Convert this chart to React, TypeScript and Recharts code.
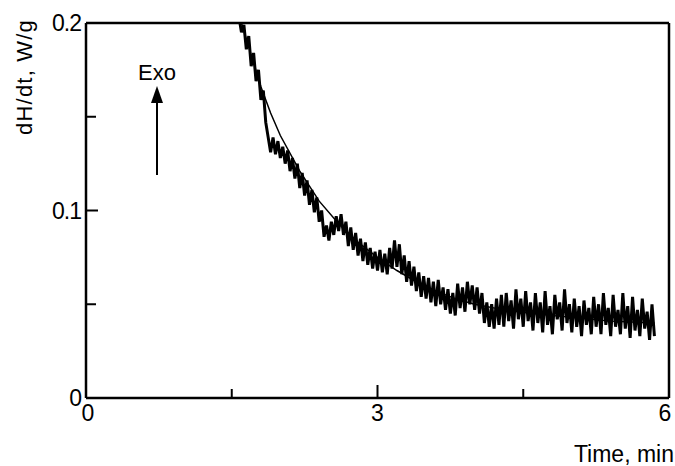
import { LineChart, Line, XAxis, YAxis, ReferenceLine } from 'recharts';

// sampled heat flow signal, one reading every 0.025 min starting at 1.55 min
const SAMPLE_START = 1.55;
const SAMPLE_STEP = 0.025;
const heatFlow = [
  0.206, 0.203, 0.195, 0.199, 0.186, 0.193, 0.177, 0.184, 0.169, 0.175,
  0.159, 0.164, 0.147, 0.139, 0.131, 0.139, 0.13, 0.137, 0.128, 0.134,
  0.125, 0.132, 0.121, 0.128, 0.117, 0.125, 0.112, 0.12, 0.108, 0.116,
  0.103, 0.111, 0.099, 0.107, 0.094, 0.1, 0.086, 0.092, 0.084, 0.094,
  0.087, 0.097, 0.089, 0.098, 0.087, 0.094, 0.081, 0.091, 0.079, 0.088,
  0.076, 0.085, 0.073, 0.083, 0.071, 0.08, 0.069, 0.078, 0.068, 0.079,
  0.067, 0.077, 0.066, 0.08, 0.069, 0.084, 0.07, 0.082, 0.066, 0.076,
  0.062, 0.073, 0.06, 0.07, 0.057, 0.067, 0.054, 0.065, 0.053, 0.064,
  0.051, 0.062, 0.049, 0.063, 0.05, 0.059, 0.047, 0.058, 0.045, 0.056,
  0.044, 0.061, 0.048, 0.059, 0.046, 0.062, 0.05, 0.06, 0.047, 0.059,
  0.045, 0.056, 0.04, 0.051, 0.038, 0.05, 0.037, 0.053, 0.039, 0.055,
  0.038, 0.056, 0.041, 0.052, 0.037, 0.058, 0.042, 0.053, 0.038, 0.057,
  0.041, 0.051, 0.036, 0.056, 0.04, 0.051, 0.035, 0.057, 0.039, 0.049,
  0.034, 0.055, 0.042, 0.051, 0.036, 0.058, 0.04, 0.05, 0.035, 0.053,
  0.038, 0.049, 0.033, 0.052, 0.039, 0.048, 0.034, 0.054, 0.038, 0.05,
  0.034, 0.056, 0.039, 0.048, 0.033, 0.055, 0.038, 0.047, 0.034, 0.056,
  0.037, 0.049, 0.032, 0.054, 0.036, 0.047, 0.033, 0.053, 0.037, 0.046,
  0.031, 0.05, 0.033,
];

// smooth fitted curve
const fitTimes = [1.55, 1.6, 1.7, 1.8, 1.9, 2.0, 2.2, 2.4, 2.6, 2.8, 3.0, 3.2, 3.4, 3.6, 3.8, 4.0, 4.3, 4.6, 5.0, 5.4, 5.85];
const fitValues = [0.208, 0.2, 0.183, 0.166, 0.152, 0.14, 0.121, 0.105, 0.093, 0.083, 0.075, 0.068, 0.062, 0.057, 0.053, 0.05, 0.047, 0.045, 0.043, 0.041, 0.04];

const xTicks = [0, 1.5, 3, 4.5, 6];
const xLabels = [0, 3, 6];
const yTicks = [0, 0.05, 0.1, 0.15, 0.2];
const yLabels: Record<number, string> = { 0: '0', 0.1: '0.1', 0.2: '0.2' };

const signalData = heatFlow.map((v, i) => ({ t: SAMPLE_START + i * SAMPLE_STEP, v }));
const fitData = fitTimes.map((t, i) => ({ t, v: fitValues[i] }));

const FONT = '"Liberation Sans", Arial, sans-serif';

const XTick = (props: any) => {
  const { x, y, payload } = props;
  const val = payload.value;
  const len = val === 3 ? 13 : 9;
  return (
    <g>
      {val !== 0 && val !== 6 && (
        <line x1={x} y1={y} x2={x} y2={y - len} stroke="#000" strokeWidth={2} />
      )}
      {xLabels.includes(val) && (
        <text
          x={val === 0 ? x + 2 : val === 6 ? x - 4 : x}
          y={y + 23}
          textAnchor="middle"
          fontSize={23}
          fontFamily={FONT}
          fill="#000"
        >
          {val}
        </text>
      )}
    </g>
  );
};

const YTick = (props: any) => {
  const { x, y, payload } = props;
  const val = payload.value;
  const len = val === 0.1 ? 12 : 10;
  const label = yLabels[val];
  return (
    <g>
      {val !== 0 && val !== 0.2 && (
        <line x1={x} y1={y} x2={x + len} y2={y} stroke="#000" strokeWidth={2} />
      )}
      {label && (
        <text
          x={x - 5}
          y={y + 8}
          textAnchor="end"
          fontSize={23}
          fontFamily={FONT}
          letterSpacing={-1}
          fill="#000"
        >
          {label}
        </text>
      )}
    </g>
  );
};

export default function App() {
  return (
    <div style={{ position: 'absolute', left: 0, top: 0, width: 675, height: 466, background: '#fff' }}>
      <LineChart
        width={675}
        height={466}
        margin={{ top: 23, right: 6, bottom: 67, left: 85 }}
      >
        <XAxis
          dataKey="t"
          type="number"
          domain={[0, 6]}
          ticks={xTicks}
          allowDataOverflow
          height={1}
          tickSize={0}
          tickMargin={0}
          tickLine={false}
          tick={<XTick />}
          axisLine={{ stroke: '#000', strokeWidth: 2.5 }}
        />
        <YAxis
          dataKey="v"
          type="number"
          domain={[0, 0.2]}
          ticks={yTicks}
          allowDataOverflow
          width={1}
          tickSize={0}
          tickMargin={0}
          tickLine={false}
          tick={<YTick />}
          axisLine={{ stroke: '#000', strokeWidth: 2.5 }}
        />
        <ReferenceLine y={0.2} stroke="#000" strokeWidth={2.5} />
        <ReferenceLine x={6} stroke="#000" strokeWidth={2.5} />
        <Line
          data={fitData}
          dataKey="v"
          type="linear"
          stroke="#000"
          strokeWidth={1.5}
          dot={false}
          isAnimationActive={false}
        />
        <Line
          data={signalData}
          dataKey="v"
          type="linear"
          stroke="#000"
          strokeWidth={3}
          dot={false}
          isAnimationActive={false}
        />
      </LineChart>
      <svg
        width={675}
        height={466}
        style={{ position: 'absolute', left: 0, top: 0, pointerEvents: 'none' }}
      >
        <text
          transform="translate(32 77) rotate(-90)"
          textAnchor="middle"
          fontSize={22}
          fontFamily={FONT}
          letterSpacing={1.2}
          fill="#000"
        >
          dH/dt, W/g
        </text>
        <text x={157} y={80} textAnchor="middle" fontSize={22} fontFamily={FONT} fill="#000">
          Exo
        </text>
        <line x1={157} y1={175} x2={157} y2={100} stroke="#000" strokeWidth={2} />
        <polygon points="157,86 151,103 163,103" fill="#000" />
        <text x={674} y={462} textAnchor="end" fontSize={23} fontFamily={FONT} fill="#000">
          Time, min
        </text>
      </svg>
    </div>
  );
}
